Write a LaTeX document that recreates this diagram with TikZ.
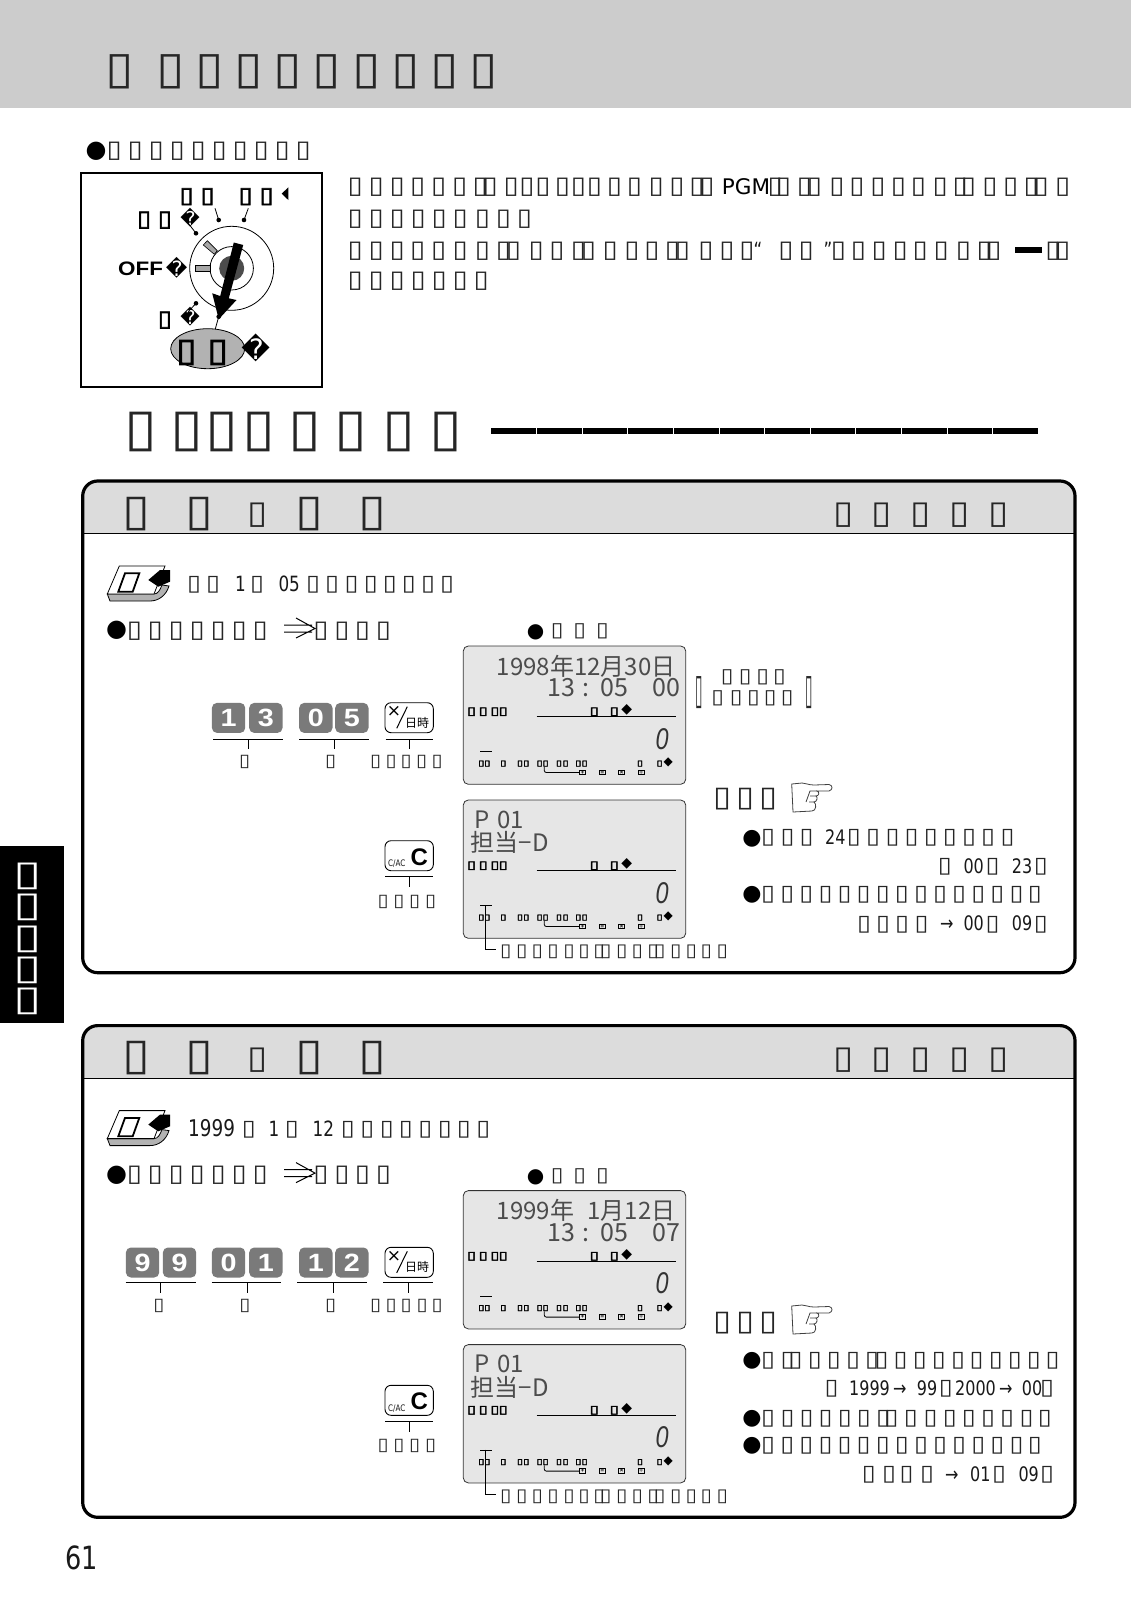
\documentclass[tikz,border=0pt]{standalone}
\usepackage{fontspec}
\newfontfamily\dejavu{DejaVu Sans}
\newfontfamily\tffont[FakeStretch=1.15]{DejaVu Sans}
\newfontfamily\tfbold[FakeStretch=1.15,FakeBold=3]{DejaVu Sans}
\newfontfamily\tfheavy[FakeStretch=1.5,FakeBold=4]{DejaVu Sans}
\newfontfamily\numfont[FakeStretch=.8]{DejaVu Sans}
\newfontfamily\keyfont[FakeStretch=1.15]{Liberation Sans Bold}
\newfontfamily\clearfont{Liberation Sans Bold}
\newfontfamily\lcdfont{Noto Sans CJK JP}
\definecolor{bandgray}{HTML}{CCCCCC}
\definecolor{headgray}{HTML}{DCDCDC}
\definecolor{lcdgray}{HTML}{E6E6E6}
\definecolor{keygray}{HTML}{7A7A7A}
\tikzset{
	tofu/.style={inner sep=0,anchor=base west,text=black!85,font=\tffont\fontsize{#1}{#1}\selectfont},
	tofub/.style={inner sep=0,anchor=base west,font=\tfbold\fontsize{#1}{#1}\selectfont},
	tofuh/.style={inner sep=0,anchor=base west,font=\tfheavy\fontsize{#1}{#1}\selectfont},
	num/.style={inner sep=0,anchor=base west,text=black!90,font=\numfont\fontsize{#1}{#1}\selectfont},
	glyphmark/.style={inner sep=0,font=\dejavu\fontsize{#1}{#1}\selectfont},
	lcdtext/.style={inner sep=0,anchor=base west,text=black!70,font=\lcdfont\fontsize{#1}{#1}\selectfont},
	numkey/.style={anchor=north west,fill=keygray,rounded corners=5,inner sep=0,minimum width=33.3pt,minimum height=30pt,text=white,font=\keyfont\fontsize{25}{25}\selectfont},
	opkey/.style={draw,rounded corners=6,line width=.9pt,fill=white},
	hairline/.style={line width=.8pt},
	handline/.style={line width=.8pt,draw=black!75,fill=white}
}
% em size, top of the box, left edges
\newcommand\tfrow[3]{\foreach \tx in {#3}{\node[tofu={#1}] at ({\tx-.105*#1},{#2+.642*#1}) {▯};}}
\newcommand\tfbrow[3]{\foreach \tx in {#3}{\node[tofub={#1}] at ({\tx-.105*#1},{#2+.642*#1}) {▯};}}
\newcommand\tfhrow[3]{\foreach \tx in {#3}{\node[tofuh={#1}] at ({\tx-.137*#1},{#2+.642*#1}) {▯};}}
\newcommand\blt[3]{\node[glyphmark=#3] at (#1,#2) {●};}
\newcommand\fffd[3]{\node[glyphmark=#3] at (#1,#2) {\char"FFFD};}
\newcommand\keyline[4]{\draw[hairline] (#1,#4) -- (#2,#4) (#3,#4) -- (#3,#4+10.3);}
\newcommand\timekey[1]{
	\begin{scope}[shift={(385,#1)}]
		\draw[opkey] (0,0) rectangle (48.3,30);
		\node[glyphmark=17] at (9,9) {×};
		\draw[line width=1pt] (11.7,25.6) -- (22.3,4);
		\node[lcdtext=12,text=black,anchor=center] at (32,20) {日時};
	\end{scope}}
\newcommand\clearkey[1]{
	\begin{scope}[shift={(385,#1)}]
		\draw[opkey] (0,0) rectangle (48.3,30);
		\node[num=9] at (3,26) {C/AC};
		\node[inner sep=0,anchor=base west,font=\clearfont\fontsize{24}{24}\selectfont] at (25.5,24.3) {C};
	\end{scope}}
\newcommand\handicon[1]{
	\begin{scope}[shift={(790,#1)}]
		\path[handline] (1.7,2) -- (12,1) .. controls (16,1) and (18,3) .. (24,3) -- (39,2.5) .. controls (43,3) and (43,8) .. (39,9) -- (27,9) .. controls (30,10) and (29,14) .. (26,14) .. controls (28,15) and (27,20) .. (24,20) .. controls (27,22) and (26,29) .. (22,29) -- (3,30) -- cycle;
		\draw[line width=.8pt,black!75] (27,9) -- (20,9) -- (16,20) (26,14) -- (20,14) (24,20) -- (19,20);
	\end{scope}}
\newcommand\lcdbody{
	\draw[rounded corners=5,fill=lcdgray,line width=.8pt,draw=black!80] (0,0) rectangle (222.4,138.3);
	\tfhrow{11}{61.5}{5,16.7,28.4,36.7,127.7,147.7}
	\node[glyphmark=14] at (163.4,64) {◆};
	\draw[hairline] (73.4,70.3) -- (212.4,70.3);
	\node[inner sep=0,anchor=base west,text=black!80,font=\fontspec{Liberation Sans Italic}\fontsize{30}{30}\selectfont] at (192,103) {\scalebox{.78}[1]{0}};
	\draw[hairline] (16.7,105.7) -- (28.4,105.7);
	\tfhrow{7.5}{114.7}{15.7,21.7,37.7,54.4,60.7,74,80,93.4,100,112.7,119,174.4,194}
	\node[glyphmark=12] at (205,116.7) {◆};
	\draw[hairline,rounded corners=2] (81,120.7) -- (81,126.5) -- (116,126.5);
	\foreach \sx/\sy in {119.4/+,139/=,158.4/×,178/÷}
		\node[draw,line width=1pt,inner sep=0,minimum width=6pt,minimum height=4.5pt,font=\clearfont\fontsize{6}{6}\selectfont] at (\sx,126.5) {\sy};
}
\newcommand\panelcommon{
	\fill[headgray] (82.7,533.7) {[rounded corners=15] -- (82.7,481) -- (1075,481)} -- (1075,533.7) -- cycle;
	\draw[line width=1.2pt] (82.7,533.7) -- (1075,533.7);
	\draw[line width=3.2pt,rounded corners=15] (82.7,481) rectangle (1075,972.7);
	\tfrow{44}{497}{126.5,189.5,299.5,362.5}
	\tfrow{32}{503.3}{251,836.7,874.7,913.3,952.3,991.7}
	% note mark
	\draw[hairline,fill=gray!60] (110,601) -- (107.3,594) -- (154,594) .. controls (158,594) and (160,590) .. (162,585) -- (169,586) .. controls (166,596) and (158,601) .. (150,601) -- cycle;
	\draw[hairline,fill=white] (107.3,594) -- (119.3,566) -- (165,566) -- (154,594) -- cycle;
	\draw[line width=1.8pt] (118.3,591.7) -- (125,573.3) -- (139.3,573.3) -- (132.7,591.7) -- cycle;
	\fill (148.3,580) -- (160,570) -- (170,570) -- (170,581.7) -- (158.3,586.7) -- cycle;
	\blt{116.5}{630.7}{24}
	\tfrow{24}{621.7}{129.3,150,171,192,213,234,255,315.7,336.7,357.3,378.3}
	\draw[line width=1pt] (284,625) -- (312,625) (284,632) -- (312,632) (296,618) -- (315,628.5) -- (296,638);
	\blt{535.7}{632.7}{20}
	\tfrow{20}{624}{552.7,575.3,598}
	\begin{scope}[shift={(463.3,646)}] \lcdbody \end{scope}
	\begin{scope}[shift={(463.3,800)}]
		\lcdbody
		\node[lcdtext=24] at (10.7,28) {P};
		\node[lcdtext=24] at (33.7,28) {01};
		\node[lcdtext=24] at (7.4,51.7) {担当−D};
	\end{scope}
	\draw[hairline] (485.3,905) -- (485.3,949.3) -- (495.7,949.3);
	\tfrow{18}{945}{501.7,517.7,533.3,549,565,580,595,601.7,617.7,633.3,649,655.7,671.7,687.3,702.3,718.3}
	\clearkey{840.7}
	\keyline{385}{433.3}{409}{876.7}
	\tfrow{17.5}{895}{379.3,395,410.7,426.7}
}
\begin{document}
\begin{tikzpicture}[x=1pt,y=-1pt]
	\useasboundingbox (0,0) rectangle (1131,1600);
	\fill[bandgray] (0,0) rectangle (1131,108);
	\tfrow{45}{54.5}{109.8,160.8,200,239,277.9,316.8,356.7,396,434.9,473.8}

	\blt{96}{151}{24}
	\tfrow{24}{142}{109,130,151,172,193,214,235,256,277,298}

	% switch
	\draw[line width=1.2pt] (81,173) rectangle (322,387);
	\draw[line width=.8pt] (231.7,268.3) circle (42);
	\draw[line width=.8pt] (231.7,268.3) circle (21.7);
	\draw[line width=.6pt,fill=gray!70] (195,265) rectangle (210,271.7);
	\draw[line width=.6pt,fill=gray!70] (203.3,245) -- (207.3,240.7) -- (217.3,250.7) -- (214.3,254.3) -- cycle;
	\fill[black!70] (231.7,268.3) circle (12.5);
	\fill (233.8,242.5) -- (243.2,245) -- (228.8,298.3) -- (236.5,300) -- (218.7,319.3) -- (212.2,293.3) -- (220.2,296) -- cycle;
	\coordinate (d1) at (218.7,220);
	\coordinate (d2) at (244,220);
	\coordinate (d3) at (196,233.3);
	\coordinate (d4) at (196,303.3);
	\coordinate (d5) at (218.7,316.7);
	\foreach \dt in {d1,d2,d3,d4,d5} \fill (\dt) circle (2.3);
	\draw[hairline] (d1) -- (215,208.3) (d2) -- (248.3,208.3) (d3) -- (188.3,223.3) (d4) -- (188.3,311.7) (d5) -- (215,330);
	\draw[line width=.8pt,fill=gray!60] (207.7,348.7) ellipse (37 and 20);
	\tfbrow{22}{188.3}{181.7,202.7,240.7,261.7}
	\fill (288.3,187.3) -- (281.7,193.7) -- (288.3,200) -- cycle;
	\tfbrow{22}{211.7}{139.3,160}
	\fffd{190}{217.3}{19}
	\node[inner sep=0,anchor=base west,font=\keyfont\fontsize{19.5}{19.5}\selectfont] (off) at (118,275.7) {OFF};
	\fffd{176.7}{268.3}{21}
	\tfbrow{22}{311.7}{160}
	\fffd{190}{316.7}{19}
	\tfbrow{32.5}{340}{179.3,210.7}
	\fffd{255.7}{348.3}{28}

	% paragraph
	\tfrow{24}{178.3}{350,371,392,412.4,433.4,454.4,475,485,506,521.7,537.7,557.3,573.3,589.3,609.3,629.3,651,671.7,691.7,701.7,770,778.3,799.3,809.3,831.7,851.7,872.7,893.3,913.3,935,955,963.3,984.7,1005.5,1026,1036,1057.4}
	\node[glyphmark=21.5,anchor=base west] at (721.7,194) {PGM};
	\tfrow{24}{210}{350,371,392,413,434,455,477.3,498.3,519.3}
	\tfrow{24}{241.7}{350,371,392,412.4,433.4,455,477.3,498.3,508.3,531,551.7,573.3,583.3,605,626.7,646.7,667.3,677.3,700.7,721.7,741.7,780.7,801,833.3,853.3,874,895,915,936,958.3,978.9,988.6,1047.7,1057.4}
	\node[num=21] at (753.3,257) {“};
	\node[num=21] at (823.3,257) {”};
	\fill (1015,247) rectangle (1041.5,253);
	\tfrow{24}{272.5}{350,371,392,413,434,455,476}

	% heading
	\tfrow{52}{412}{129.3,176,211,247.3,293.3,340,387.3,434.3}
	\fill (490.7,428.3) rectangle (1038,434.3);
	\foreach \hx in {1,...,11} \draw[white,line width=.3pt] (490.7+\hx*45.6,428.3) -- ++(0,6);

	% tab
	\fill (0,845.7) rectangle (64,1023);
	\foreach \ty in {863.3,894.3,925.7,956.7,987.7}
		\node[inner sep=0,anchor=base west,text=white,font=\tffont\fontsize{35}{35}\selectfont] at (13.6,\ty+22.5) {\scalebox{1.28}[1]{▯}};

	% first panel
	\panelcommon
	\tfrow{22}{576.7}{189.3,208.3,252.3,308.3,327.3,346.7,366,385,404,423.3,442.3}
	\node[num=21] at (235,591.7) {1};
	\node[num=21] at (278.3,591.7) {05};
	\foreach \nm/\kx/\kd in {ka/211.7/1,kb/249/3,kc/299/0,kd/335/5}
		\node[numkey] (\nm) at (\kx,702.7) {\kd};
	\timekey{702.7}
	\keyline{213.3}{283.3}{248.3}{739}
	\keyline{299.3}{369.3}{334.3}{739}
	\keyline{385.7}{433.3}{409.3}{739}
	\tfrow{17.5}{755}{240.7,326.7,371.7,387.3,402.3,417.7,433.3}
	\begin{scope}[shift={(463.3,646)}]
		\node[lcdtext=24] at (33.4,29) {1998年12月30日};
		\node[lcdtext=25] at (84,50.7) {13};
		\node[lcdtext=25] at (119,50.7) {:};
		\node[lcdtext=25] at (137,50.7) {05};
		\node[lcdtext=25] at (189,50.7) {00};
	\end{scope}
	\foreach \bx in {695.5,805.5}
		\node[inner sep=0,anchor=base west,text=black!85,font=\tffont\fontsize{42}{42}\selectfont] at (\bx,703.7) {\scalebox{.28}[1]{▯}};
	\tfrow{20}{669.3}{722.7,740.7,758.3,775}
	\tfrow{20}{690.7}{713.3,731.7,749,765.7,782.7}
	\tfrow{28.5}{788.3}{716.7,739.3,762.3}
	\handicon{782}
	\blt{752}{838.3}{22}
	\tfrow{22}{829.3}{763.3,782.7,801.7,849,868.3,887.7,906.7,926,945,964.3,983.3,1002.7}
	\node[num=20] at (825,844) {24};
	\tfrow{22}{858.3}{940,987.7,1036}
	\node[num=20] at (963.3,873) {00};
	\node[num=20] at (1011.7,873) {23};
	\blt{752}{895}{22}
	\tfrow{22}{886.7}{763.3,782.4,801.5,820.6,839.7,858.8,877.9,897,916.1,935.2,954.3,973.4,992.5,1011.6,1030}
	\tfrow{22}{916}{859.3,878.3,897.3,916.7,987.7,1036}
	\node[num=20] at (940,930) {→};
	\node[num=20] at (963.3,930) {00};
	\node[num=20] at (1011.7,930) {09};

	% second panel
	\begin{scope}[yshift=-544.6pt] \panelcommon \end{scope}
	\tfrow{22}{1121.3}{244,287,343,362.5,382,401,420.5,440,459,478.5}
	\node[num=23] at (188,1136.3) {1999};
	\node[num=21] at (268.5,1136.3) {1};
	\node[num=21] at (312.4,1136.3) {12};
	\foreach \nm/\kx/\kd in {la/125.7/9,lb/162.7/9,lc/211.7/0,ld/249/1,le/299/1,lf/335/2}
		\node[numkey] (\nm) at (\kx,1247.3) {\kd};
	\timekey{1247.3}
	\keyline{125.7}{195.7}{160.7}{1282.3}
	\keyline{211.7}{280.7}{247.3}{1282.3}
	\keyline{297.3}{367.3}{333.3}{1282.3}
	\keyline{383.3}{432.7}{408.3}{1282.3}
	\tfrow{17.5}{1299.5}{155,241,326.7,371.7,387.3,402.3,418.3,433.3}
	\begin{scope}[shift={(463.3,1190.6)}]
		\node[lcdtext=24] at (33.4,29) {1999年\hspace{.555em}1月12日};
		\node[lcdtext=25] at (84,50.7) {13};
		\node[lcdtext=25] at (119,50.7) {:};
		\node[lcdtext=25] at (137,50.7) {05};
		\node[lcdtext=25] at (189,50.7) {07};
	\end{scope}
	\tfrow{28.5}{1311.7}{716.7,739.3,762.3}
	\handicon{1304}
	\blt{752}{1361}{22}
	\tfrow{22}{1352.7}{763.3,782.7,790.7,810,829,848.3,867.3,876.7,895.7,915,934,953.3,971.7,991,1010,1029,1047.7}
	\tfrow{22}{1380}{826.7,941,1042.3}
	\node[num=20] at (849,1395) {1999};
	\node[num=20] at (893,1395) {→};
	\node[num=20] at (916.7,1395) {99};
	\node[num=20] at (955,1395) {2000};
	\node[num=20] at (999,1395) {→};
	\node[num=20] at (1021.7,1395) {00};
	\blt{752}{1418.3}{22}
	\tfrow{22}{1410}{763.3,782.7,801.7,820.7,840,859,878.3,886.7,906,925.7,945,964,983.3,1002.3,1021.7,1040}
	\blt{752}{1445.7}{22}
	\tfrow{22}{1437.7}{763.3,782.4,801.5,820.6,839.7,858.8,877.9,897,916.1,935.2,954.3,973.4,992.5,1011.6,1030}
	\tfrow{22}{1466.7}{864,884.3,901.7,922.3,994.3,1042.3}
	\node[num=20] at (945,1481) {→};
	\node[num=20] at (970,1481) {01};
	\node[num=20] at (1018.3,1481) {09};

	\node[num=32] at (65,1569) {61};
\end{tikzpicture}
\end{document}
